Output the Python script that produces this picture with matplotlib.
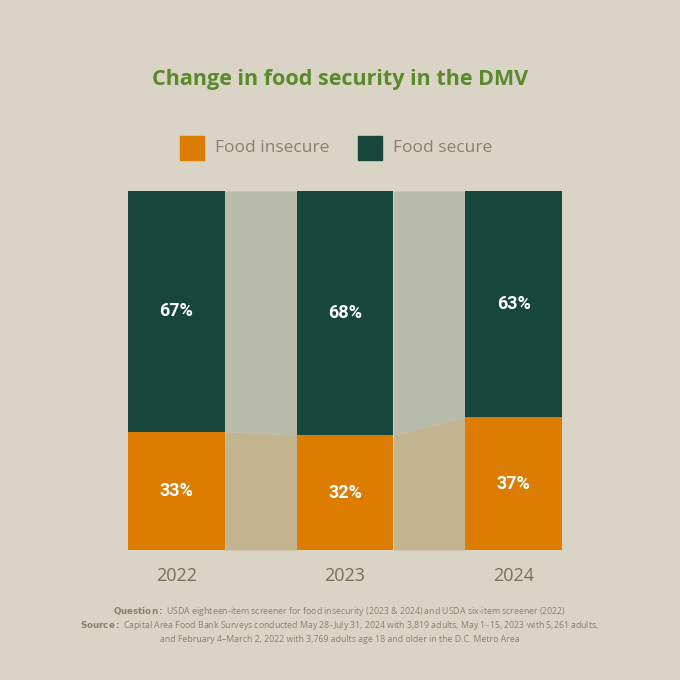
import numpy as np
import matplotlib.pyplot as plt

years = ["2022", "2023", "2024"]
insecure = [33, 32, 37]
secure = [67, 68, 63]

BG = "#d9d4c5"
ORANGE = "#dc7c00"
GREEN = "#17473a"
BAND_TOP = "#b9bbab"
BAND_BOT = "#c3b490"
TXT = "#8a8070"

plt.rcParams["font.family"] = ["Open Sans", "DejaVu Sans"]

fig = plt.figure(figsize=(6.8, 6.8), dpi=100, facecolor=BG)
ax = fig.add_axes([128 / 680, 130 / 680, 434 / 680, 359 / 680])
ax.set_facecolor(BG)

w = 0.574
x = np.arange(len(years))

# connecting bands between bars
for i in range(len(years) - 1):
    xs = [x[i] + w / 2, x[i + 1] - w / 2]
    ys = [insecure[i], insecure[i + 1]]
    ax.fill_between(xs, 0, ys, color=BAND_BOT, lw=0)
    ax.fill_between(xs, ys, 100, color=BAND_TOP, lw=0)

ax.bar(x, insecure, width=w, color=ORANGE, lw=0)
ax.bar(x, secure, width=w, bottom=insecure, color=GREEN, lw=0)

for xi, a, b in zip(x, insecure, secure):
    ax.text(xi, a / 2, f"{a}%", ha="center", va="center", color="white",
            fontsize=13, fontweight="bold", family="Roboto")
    ax.text(xi, a + b / 2, f"{b}%", ha="center", va="center", color="white",
            fontsize=13, fontweight="bold", family="Roboto")

ax.set_xlim(-w / 2, 2 + w / 2)
ax.set_ylim(0, 100)
ax.set_xticks(x)
ax.set_xticklabels(years, fontsize=13, color="#7a6e58")
ax.tick_params(length=0, pad=12)
ax.set_yticks([])
for s in ax.spines.values():
    s.set_visible(False)

fig.text(0.5, 1 - 80 / 680, "Change in food security in the DMV", ha="center",
         va="center", fontsize=15.5, fontweight="bold", color="#5a8a2a")

# legend
fig.patches.append(plt.Rectangle((180 / 680, 1 - 160 / 680), 24 / 680, 24 / 680,
                                 transform=fig.transFigure, color=ORANGE))
fig.text(215 / 680, 1 - 148 / 680, "Food insecure", va="center", fontsize=12.5, color=TXT)
fig.patches.append(plt.Rectangle((358 / 680, 1 - 160 / 680), 24 / 680, 24 / 680,
                                 transform=fig.transFigure, color=GREEN))
fig.text(393 / 680, 1 - 148 / 680, "Food secure", va="center", fontsize=12.5, color=TXT)

# footnote
fs = 6.3
fig.text(0.5, 1 - 612 / 680,
         r"$\bf{Question:}$ USDA eighteen-item screener for food insecurity (2023 & 2024) and USDA six-item screener (2022)",
         ha="center", va="center", fontsize=fs, color=TXT)
fig.text(0.5, 1 - 626 / 680,
         r"$\bf{Source:}$ Capital Area Food Bank Surveys conducted May 28–July 31, 2024 with 3,819 adults, May 1–15, 2023 with 5,261 adults,",
         ha="center", va="center", fontsize=fs, color=TXT)
fig.text(0.5, 1 - 640 / 680,
         "and February 4–March 2, 2022 with 3,769 adults age 18 and older in the D.C. Metro Area",
         ha="center", va="center", fontsize=fs, color=TXT)

fig.savefig("out.png", dpi=100, facecolor=BG)
